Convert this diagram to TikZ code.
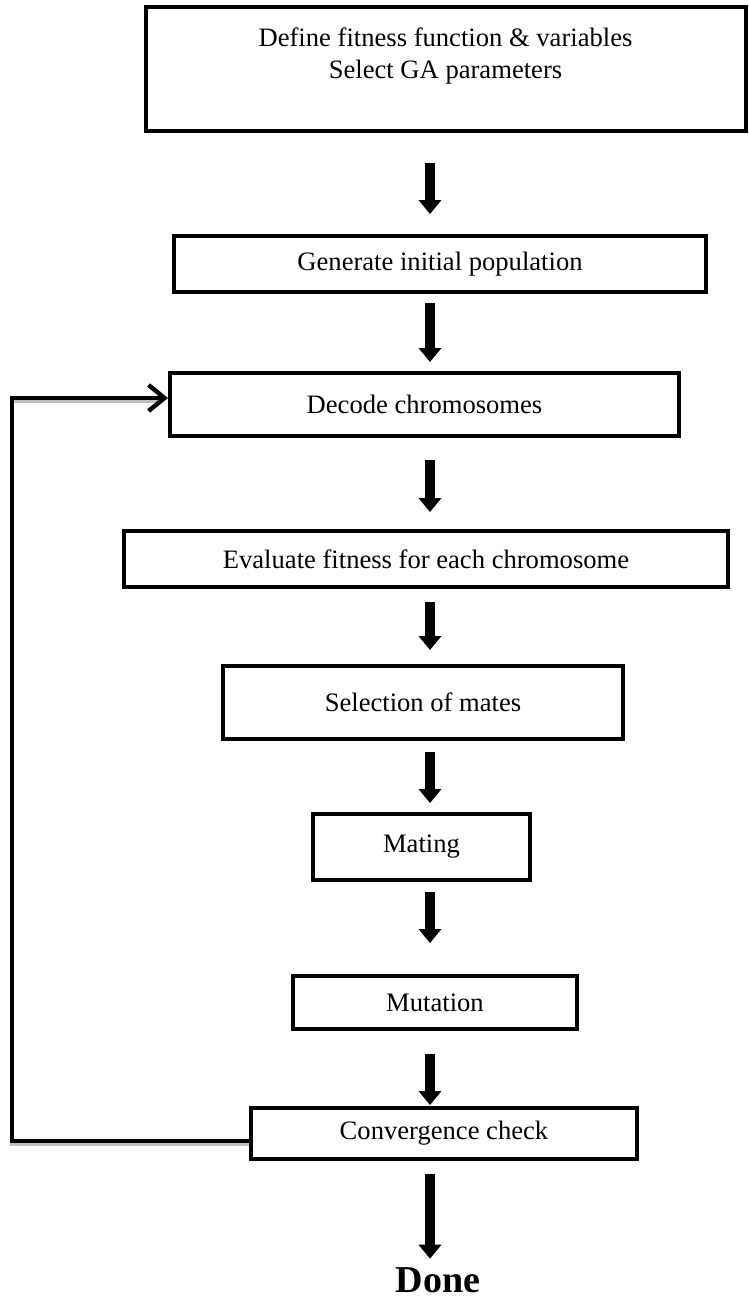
\documentclass[tikz,border=0pt]{standalone}
\usepackage{fontspec}
\setmainfont{Liberation Serif}
\usetikzlibrary{arrows.meta}
\newcommand\boxfont{\fontsize{13.3}{16}\selectfont}
\newcommand\donefont{\fontsize{19}{22}\selectfont\bfseries}

\tikzset{
  stepbox/.style={draw, line width=2.2pt, inner sep=0pt, font=\boxfont, align=center},
  blk/.style={line width=5pt, -{Triangle[length=7pt,width=11pt]}},
  back/.style={line width=2.2pt, -{Straight Barb[length=8pt,width=13pt]}},
}

\begin{document}
\begin{tikzpicture}[x=0.5pt, y=-0.5pt]
\useasboundingbox (0,0) rectangle (749,1303);
% steps of the GA
\node[stepbox, line width=2pt, minimum width=300pt, minimum height=62pt] (defn) at (445.5,69) {Define fitness function \& variables\\Select GA parameters\\\mbox{}};
\node[stepbox, minimum width=265.75pt, minimum height=27.75pt] (gen) at (440,264) {Generate initial population};
\node[stepbox, minimum width=254.25pt, minimum height=31.25pt] (dec) at (424.5,404.5) {Decode chromosomes};
\node[stepbox, minimum width=301.75pt, minimum height=27.75pt] (eval) at (426,559) {Evaluate fitness for each chromosome};
\node[stepbox, minimum width=199.75pt, minimum height=36.25pt] (sel) at (423,702.5) {Selection of mates};
\node[stepbox, minimum width=108.25pt, minimum height=32.75pt] (mat) at (421.5,847) {Mating};
\node[stepbox, minimum width=141.75pt, minimum height=26.25pt] (mut) at (435,1002.5) {Mutation};
\node[stepbox, minimum width=192.75pt, minimum height=25.25pt] (conv) at (444,1133.5) {Convergence check};
\node[font=\donefont, inner sep=0pt, anchor=base] (done) at (438,1292) {Done};
\coordinate (ax) at (430,0);
\coordinate (lp) at (12,770);
% forward arrows
\draw[blk, shorten <=15pt, shorten >=10pt] (defn.south -| ax) -- (gen.north -| ax);
\draw[blk, shorten <=4.5pt, shorten >=4.5pt] (gen.south -| ax) -- (dec.north -| ax);
\draw[blk, shorten <=11pt, shorten >=8.5pt] (dec.south -| ax) -- (eval.north -| ax);
\draw[blk, shorten <=6.5pt, shorten >=7pt] (eval.south -| ax) -- (sel.north -| ax);
\draw[blk, shorten <=5.5pt, shorten >=4.5pt] (sel.south -| ax) -- (mat.north -| ax);
\draw[blk, shorten <=5pt, shorten >=15.5pt] (mat.south -| ax) -- (mut.north -| ax);
\draw[blk, shorten <=11.5pt, shorten >=0.5pt] (mut.south -| ax) -- (conv.north -| ax);
\draw[blk, shorten <=6.5pt, shorten >=4pt] (conv.south -| ax) -- (done.north -| ax);
% loop back
\draw[gray!50, line width=2pt, transform canvas={yshift=-1.5pt}] ([yshift=-3.75pt]conv.west) -| (lp) |- ([yshift=3.25pt,xshift=-3pt]dec.west);
\draw[back] ([yshift=-3.75pt]conv.west) -| (lp) |- ([yshift=3.25pt]dec.west);
\end{tikzpicture}
\end{document}
